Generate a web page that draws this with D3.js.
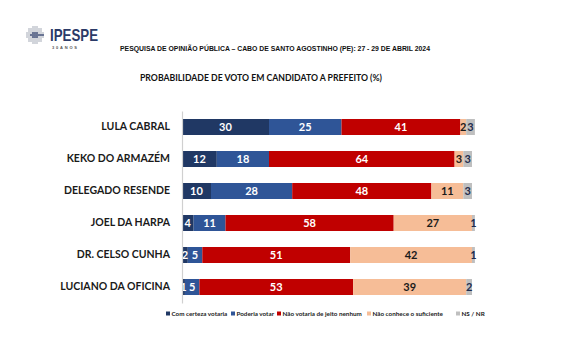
<!DOCTYPE html>
<html>
<head>
<meta charset="utf-8">
<script src="https://cdn.jsdelivr.net/npm/d3@7"></script>
<style>
  body { margin: 0; background: #fff; }
  svg { display: block; }
</style>
</head>
<body>
<script>
// data
var candidates = ["LULA CABRAL", "KEKO DO ARMAZÉM", "DELEGADO RESENDE", "JOEL DA HARPA", "DR. CELSO CUNHA", "LUCIANO DA OFICINA"];
var comCerteza = [30, 12, 10, 4, 2, 1];
var poderia = [25, 18, 28, 11, 5, 5];
var naoVotaria = [41, 64, 48, 58, 51, 53];
var naoConhece = [2, 3, 11, 27, 42, 39];
var nsnr = [3, 3, 3, 1, 1, 2];
var seriesNames = ["Com certeza votaria", "Poderia votar", "Não votaria de jeito nenhum", "Não conhece o suficiente", "NS / NR"];

var colors = ["#203864", "#2f5597", "#c00000", "#f6bd97", "#bfbfbf"];
var textColors = ["#fff", "#fff", "#fff", "#1a1a1a", "#1f2d4d"];

var svgWidth = 564, svgHeight = 337;
var svg = d3.select("body").append("svg")
  .attr("width", svgWidth)
  .attr("height", svgHeight);

// --- logo ---
var logo = svg.append("g").attr("transform", "translate(35,35)");
var dots = [];
for (var i = -4; i <= 4; i++) {
  for (var j = -4; j <= 4; j++) {
    if (i * i + j * j <= 18) dots.push([i, j]);
  }
}
// navy arrow-ish dots in the middle, grey for the rest
function isCore(d) { return (d[0] > -2 && d[0] < 2 && Math.abs(d[1]) < 2) || (d[1] == 0 && d[0] > -3); }
logo.selectAll("circle")
  .data(dots)
  .enter().append("circle")
  .attr("cx", d => d[0] * 2)
  .attr("cy", d => d[1] * 2)
  .attr("r", d => isCore(d) ? 0.95 : 0.8)
  .attr("fill", d => isCore(d) ? "#2b3a67" : "#9aa0ad");
svg.append("text")
  .attr("x", 50).attr("y", 41)
  .attr("font-family", "Liberation Sans, Arial, sans-serif")
  .attr("font-weight", "bold")
  .attr("font-size", "17px")
  .attr("fill", "#2b3a67")
  .attr("textLength", 48)
  .attr("lengthAdjust", "spacingAndGlyphs")
  .text("IPESPE");
svg.append("text")
  .attr("x", 52).attr("y", 49)
  .attr("font-family", "Liberation Sans, Arial, sans-serif")
  .attr("font-weight", "bold")
  .attr("font-size", "4px")
  .attr("fill", "#555")
  .attr("textLength", 25)
  .text("30ANOS");

// --- titles ---
svg.append("text")
  .attr("x", 275).attr("y", 51)
  .attr("text-anchor", "middle")
  .attr("font-family", "Liberation Sans, Arial, sans-serif")
  .attr("font-weight", "bold")
  .attr("font-size", "6.6px")
  .attr("fill", "#111")
  .attr("textLength", 310)
  .attr("lengthAdjust", "spacingAndGlyphs")
  .text("PESQUISA DE OPINIÃO PÚBLICA – CABO DE SANTO AGOSTINHO (PE): 27 - 29 DE ABRIL 2024");

svg.append("text")
  .attr("x", 261).attr("y", 81)
  .attr("text-anchor", "middle")
  .attr("font-family", "Lato, sans-serif")
  .attr("font-weight", "bold")
  .attr("font-size", "9.5px")
  .attr("fill", "#111")
  .attr("textLength", 242)
  .attr("lengthAdjust", "spacingAndGlyphs")
  .text("PROBABILIDADE DE VOTO EM CANDIDATO A PREFEITO (%)");

// --- scales ---
var x = d3.scaleLinear().domain([0, 100]).range([182, 472]);
var y = d3.scaleBand().domain(candidates).range([111, 303])
  .paddingInner(0.5).paddingOuter(0.25);

// stacked rows
var rows = candidates.map(function(c, i) {
  return { name: c, vals: [comCerteza[i], poderia[i], naoVotaria[i], naoConhece[i], nsnr[i]] };
});
var segs = [];
rows.forEach(function(r) {
  var start = 0;
  r.vals.forEach(function(v, k) {
    segs.push({ name: r.name, k: k, v: v, x0: start, x1: start + v });
    start += v;
  });
});

svg.append("g").selectAll("rect")
  .data(segs)
  .enter().append("rect")
  .attr("x", d => x(d.x0))
  .attr("y", d => y(d.name))
  .attr("width", d => x(d.x1) - x(d.x0))
  .attr("height", y.bandwidth())
  .attr("fill", d => colors[d.k]);

svg.append("g").selectAll("text")
  .data(segs)
  .enter().append("text")
  .attr("x", d => (x(d.x0) + x(d.x1)) / 2)
  .attr("y", d => y(d.name) + y.bandwidth() / 2)
  .attr("dy", "0.36em")
  .attr("text-anchor", "middle")
  .attr("font-family", "Lato, sans-serif")
  .attr("font-weight", "bold")
  .attr("font-size", "11px")
  .attr("fill", d => textColors[d.k])
  .text(d => d.v);

// --- axis ---
var yAxis = d3.axisLeft(y).tickSize(0).tickPadding(12);
var axisG = svg.append("g")
  .attr("transform", "translate(182,0)")
  .call(yAxis);
axisG.select(".domain").attr("stroke", "#d0d0d0").attr("stroke-width", 1.2);
axisG.selectAll("text")
  .attr("font-family", "Lato, sans-serif")
  .attr("font-weight", "bold")
  .attr("font-size", "10.5px")
  .attr("fill", "#1a1a1a");

// --- legend ---
var legendX = [166, 231, 277, 367, 456];
var legend = svg.append("g").selectAll("g")
  .data(seriesNames)
  .enter().append("g")
  .attr("transform", (d, i) => "translate(" + legendX[i] + ",315)");
legend.append("rect")
  .attr("x", 0).attr("y", -3.5)
  .attr("width", 4).attr("height", 4)
  .attr("fill", (d, i) => colors[i]);
legend.append("text")
  .attr("x", 5.5).attr("y", 0.5)
  .attr("font-family", "Lato, sans-serif")
  .attr("font-weight", "bold")
  .attr("font-size", "6.3px")
  .attr("fill", "#1a1a1a")
  .text(d => d);
</script>
</body>
</html>
